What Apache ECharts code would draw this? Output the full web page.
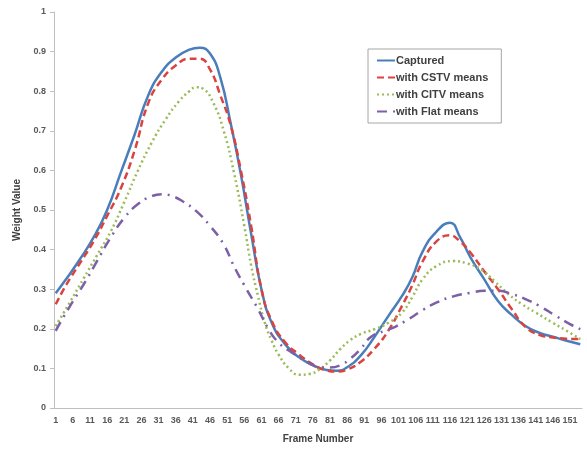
<!DOCTYPE html>
<html>
<head>
<meta charset="utf-8">
<script src="https://cdn.jsdelivr.net/npm/echarts@6/dist/echarts.min.js"></script>
<style>
  html, body { margin: 0; padding: 0; background: #fff; }
  #main { width: 587px; height: 449px; }
</style>
</head>
<body>
<div id="main"></div>
<script>
// frame numbers 1..154 on the x axis
let frames = [];
for (let i = 1; i <= 154; i++) frames.push(String(i));

// [frame, weight]
let captured = [
  [1, 0.29], [4, 0.325], [8, 0.375], [12, 0.43], [16, 0.5], [20, 0.595],
  [24, 0.69], [28, 0.79], [32, 0.85], [36, 0.885], [40, 0.905], [43, 0.91],
  [46, 0.895], [49, 0.835], [52, 0.72], [55, 0.59], [58, 0.44], [61, 0.3],
  [64, 0.215], [68, 0.16], [72, 0.128], [76, 0.108], [80, 0.096], [83, 0.094],
  [86, 0.103], [90, 0.133], [94, 0.18], [98, 0.232], [102, 0.283],
  [105, 0.33], [108, 0.395], [112, 0.445], [116, 0.468], [119, 0.43],
  [122, 0.38], [126, 0.325], [130, 0.27], [134, 0.235], [138, 0.207],
  [142, 0.19], [146, 0.18], [150, 0.17], [154, 0.161]
];
let cstv = [
  [1, 0.262], [4, 0.31], [8, 0.365], [12, 0.42], [16, 0.485], [20, 0.555],
  [24, 0.65], [28, 0.77], [32, 0.83], [36, 0.865], [40, 0.882], [43, 0.882],
  [46, 0.855], [49, 0.79], [52, 0.715], [55, 0.6], [58, 0.46], [61, 0.3],
  [64, 0.22], [68, 0.165], [72, 0.135], [76, 0.11], [80, 0.095], [83, 0.092],
  [86, 0.097], [90, 0.117], [94, 0.15], [98, 0.195], [102, 0.258],
  [105, 0.31], [108, 0.37], [112, 0.42], [116, 0.436], [119, 0.42],
  [122, 0.392], [126, 0.345], [130, 0.3], [134, 0.25], [138, 0.205],
  [142, 0.185], [146, 0.178], [150, 0.175], [154, 0.174]
];
let citv = [
  [1, 0.207], [5, 0.265], [9, 0.325], [13, 0.385], [17, 0.445], [21, 0.52],
  [25, 0.6], [29, 0.67], [33, 0.728], [37, 0.775], [40, 0.8], [42, 0.81],
  [44, 0.806], [47, 0.77], [50, 0.7], [53, 0.594], [56, 0.46], [58, 0.36],
  [60, 0.283], [62, 0.215], [64, 0.17], [66, 0.135], [69, 0.1], [72, 0.084],
  [75, 0.086], [78, 0.098], [81, 0.12], [84, 0.149], [87, 0.172],
  [90, 0.187], [94, 0.199], [98, 0.215], [102, 0.241], [105, 0.28],
  [108, 0.325], [112, 0.358], [117, 0.371], [121, 0.365], [125, 0.35],
  [129, 0.32], [133, 0.288], [137, 0.262], [141, 0.241], [146, 0.215],
  [150, 0.195], [154, 0.174]
];
let flat = [
  [1, 0.195], [5, 0.255], [9, 0.31], [13, 0.37], [17, 0.43], [21, 0.48],
  [25, 0.515], [29, 0.535], [32, 0.54], [35, 0.535], [38, 0.522],
  [42, 0.497], [46, 0.46], [50, 0.413], [53, 0.358], [56, 0.31], [60, 0.25],
  [63, 0.2], [66, 0.165], [69, 0.145], [72, 0.128], [75, 0.113],
  [78, 0.103], [81, 0.102], [84, 0.108], [87, 0.125], [90, 0.15],
  [93, 0.18], [97, 0.195], [100, 0.205], [104, 0.225], [108, 0.247],
  [112, 0.266], [117, 0.282], [122, 0.291], [126, 0.296], [130, 0.296],
  [134, 0.288], [138, 0.275], [142, 0.258], [147, 0.232], [151, 0.212],
  [154, 0.199]
];

// category axis wants index, not frame label
function toIdx(arr) {
  return arr.map(function (p) { return [p[0] - 1, p[1]]; });
}

let myChart = echarts.init(document.getElementById("main"));

let labelFont = {
  fontFamily: "Liberation Sans",
  fontSize: 9,
  fontWeight: "bold",
  color: "#595959",
};

function makeLine(name, data, color, type) {
  return {
    name: name,
    type: "line",
    data: toIdx(data),
    smooth: 0.5,
    symbol: "none",
    lineStyle: { color: color, width: 2.5, type: type },
    itemStyle: { color: color },
  };
}

let option = {
  backgroundColor: "#fff",
  animation: false,
  grid: { left: 54, right: 5, top: 12, bottom: 40 },
  legend: {
    orient: "vertical",
    left: 368,
    top: 49,
    padding: [6, 13, 6, 8],
    itemGap: 6,
    itemWidth: 18,
    itemHeight: 10,
    borderColor: "#a6a6a6",
    borderWidth: 1,
    itemStyle: { opacity: 0 },
    textStyle: {
      fontFamily: "Liberation Sans",
      fontSize: 11,
      fontWeight: "bold",
      color: "#404040",
      padding: [0, 0, 0, -4],
    },
    data: ["Captured", "with CSTV means", "with CITV means", "with Flat means"],
  },
  xAxis: {
    type: "category",
    data: frames,
    name: "Frame Number",
    nameLocation: "middle",
    nameGap: 26,
    nameTextStyle: {
      fontFamily: "Liberation Sans",
      fontSize: 10,
      fontWeight: "bold",
      color: "#404040",
    },
    axisLine: { lineStyle: { color: "#bfbfbf" } },
    axisTick: { interval: 0, length: 3, lineStyle: { color: "#bfbfbf" } },
    axisLabel: Object.assign({ interval: 4, margin: 8 }, labelFont),
    splitLine: { show: false },
  },
  yAxis: {
    type: "value",
    min: 0,
    max: 1,
    interval: 0.1,
    name: "Weight Value",
    nameLocation: "middle",
    nameGap: 30,
    nameTextStyle: {
      fontFamily: "Liberation Sans",
      fontSize: 10,
      fontWeight: "bold",
      color: "#404040",
    },
    axisLine: { show: true, lineStyle: { color: "#bfbfbf" } },
    axisTick: { show: true, length: 4, lineStyle: { color: "#bfbfbf" } },
    axisLabel: Object.assign({ margin: 8 }, labelFont),
    splitLine: { show: false },
  },
  series: [
    makeLine("Captured", captured, "#4a7ebb", "solid"),
    makeLine("with CSTV means", cstv, "#d9443f", [7, 4]),
    makeLine("with CITV means", citv, "#9bbb59", [2, 3]),
    makeLine("with Flat means", flat, "#7d5fa8", [10, 6, 2, 6]),
  ],
};

myChart.setOption(option);
</script>
</body>
</html>
